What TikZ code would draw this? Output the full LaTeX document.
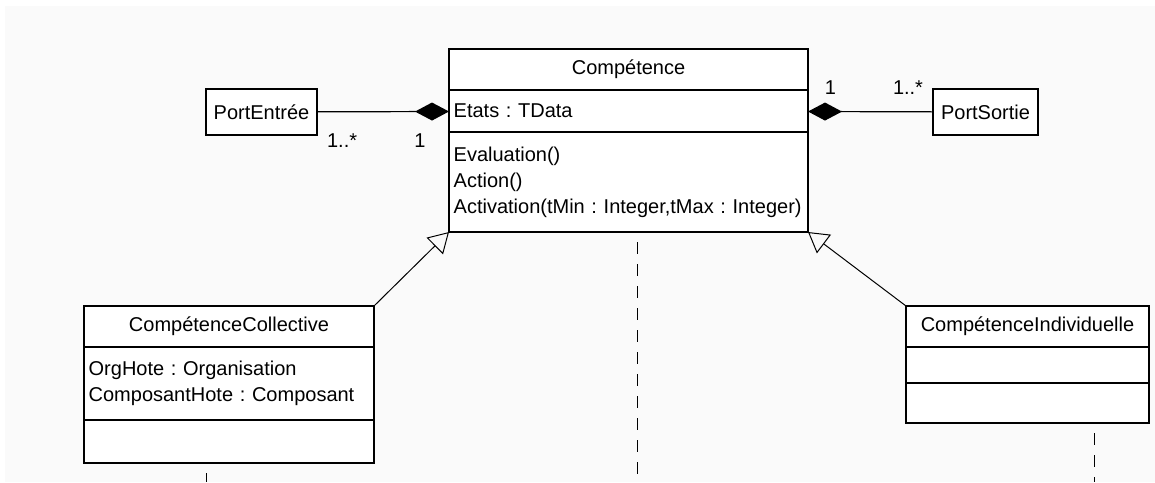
\documentclass[tikz,border=0pt]{standalone}
\usepackage{fontspec}
\setmainfont{Liberation Sans}
\usetikzlibrary{arrows.meta,positioning,shadows}
\frenchspacing
\hyphenpenalty=10000
\definecolor{Ink}{HTML}{000000}
\definecolor{Paper}{HTML}{FAFAFA}
\tikzset{
  >=Latex,
  umlfont/.style={font=\fontsize{15}{19.5}\selectfont},
  box/.style={draw=Ink,fill=white,line width=.9pt,outer sep=0pt,inner xsep=3.5pt,inner ysep=2pt,umlfont,
    drop shadow={shadow xshift=.9pt,shadow yshift=-.9pt,opacity=.3}},
  cname/.style={box,minimum height=30.75pt},
  compart/.style={box,align=left},
  port/.style={box,minimum height=34.5pt,inner xsep=2pt},
  compo/.style={draw=Ink,line width=.9pt},
  gen/.style={-{Triangle[open,length=15pt,width=17.5pt]},draw=Ink,line width=.75pt},
  life/.style={draw=Ink,line width=.75pt,dash pattern=on 9pt off 7.5pt,dash phase=9pt},
  mult/.style={umlfont,inner sep=1pt}
}
\begin{document}
\begin{tikzpicture}[x=.75pt,y=-.75pt]
        \useasboundingbox (0,0) rectangle (1155,482);
        \fill[white] (0,0) rectangle (1155,482);
        \fill[Paper] (5,6) rectangle (1155,482);

        \node[cname,minimum width=269.25pt] (compet) at (628.5,69.5) {Compétence};
        \node[compart,text width=262.25pt,minimum height=31.5pt,below=0pt of compet] (competA) {Etats : TData};
        \node[compart,text width=262.25pt,minimum height=75pt,below=0pt of competA] (competM)
          {Evaluation()\\Action()\\Activation(tMin : Integer,tMax : Integer)};

        \node[cname,minimum width=217.5pt] (coll) at (229,326.5) {CompétenceCollective};
        \node[compart,text width=210.5pt,minimum height=54.75pt,below=0pt of coll] (collA)
          {OrgHote : Organisation\\ComposantHote : Composant};
        \node[compart,text width=210.5pt,minimum height=32.25pt,below=0pt of collA] (collM) {};

        \node[cname,minimum width=182.25pt] (indiv) at (1027.5,326.5) {CompétenceIndividuelle};
        \node[compart,text width=175.25pt,minimum height=27pt,below=0pt of indiv] (indivA) {};
        \node[compart,text width=175.25pt,minimum height=30pt,below=0pt of indivA] (indivM) {};

        \node[port,minimum width=83.25pt] (pin) at (261.5,112) {PortEntrée};
        \node[port,minimum width=78.75pt] (pout) at (985.5,112) {PortSortie};

        \draw[compo,-{Diamond[length=25.5pt,width=13.5pt]}] (pin)--(competA)
          node[mult,pos=.19,below=15pt] {1..*}
          node[mult,pos=.78,below=15pt] {1};
        \draw[compo,{Diamond[length=25.5pt,width=13.5pt]}-] (competA)--(pout)
          node[mult,pos=.18,above=11.5pt] {1}
          node[mult,pos=.8,above=11.5pt] {1..*};

        \draw[gen] (coll.north east)--(competM.south west);
        \draw[gen] (indiv.north west)--(competM.south east);

        \coordinate (lifeM) at (637,482);
        \coordinate (lifeC) at (206,482);
        \coordinate (lifeI) at (1094,482);
        \draw[life] (competM.south -| lifeM)--(lifeM);
        \draw[life] (collM.south -| lifeC)--(lifeC);
        \draw[life] (indivM.south -| lifeI)--(lifeI);
      \end{tikzpicture}
\end{document}
